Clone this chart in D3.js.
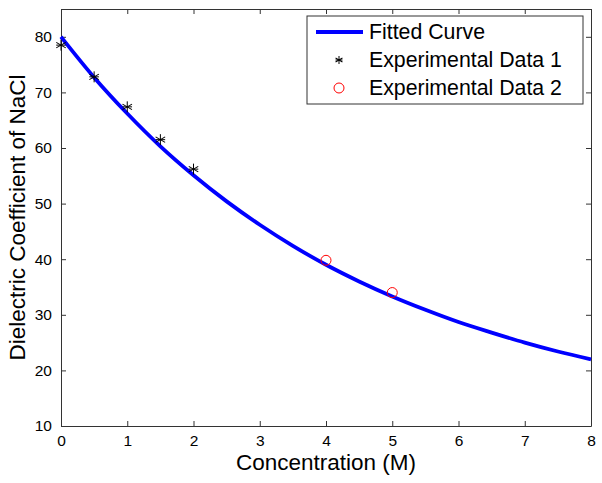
<!DOCTYPE html>
<html>
<head>
<meta charset="utf-8">
<script src="https://cdn.jsdelivr.net/npm/d3@7"></script>
<style>
  body { margin: 0; background: #fff; }
  text { font-family: "Liberation Sans", Arial, sans-serif; fill: #000; }
  .axis path, .axis line { stroke: #333; }
</style>
</head>
<body>
<div id="chart"></div>
<script>
// fitted curve
const curveX = [0, 0.5, 1, 1.5, 2, 2.5, 3, 3.5, 4, 4.5, 5, 5.5, 6, 6.5, 7, 7.5, 8];
const curveY = [80.0, 72.7, 66.2, 60.3, 55.1, 50.4, 46.2, 42.4, 39.0, 36.0, 33.3, 30.9, 28.7, 26.8, 25.0, 23.4, 22.0];

// experimental data
const exp1X = [0, 0.5, 1, 1.5, 2];
const exp1Y = [78.5, 72.8, 67.4, 61.5, 56.2];
const exp2X = [4, 5];
const exp2Y = [39.8, 34.0];

const xTicks = [0, 1, 2, 3, 4, 5, 6, 7, 8];
const yTicks = [10, 20, 30, 40, 50, 60, 70, 80];

const width = 602, height = 483;
const margin = { top: 9, right: 11, bottom: 57, left: 61 };
const chartWidth = width - margin.left - margin.right;
const chartHeight = height - margin.top - margin.bottom;

const svg = d3.select("#chart")
  .append("svg")
  .attr("width", width)
  .attr("height", height);

const g = svg.append("g")
  .attr("transform", `translate(${margin.left}, ${margin.top})`);

const xScale = d3.scaleLinear().domain([0, 8]).range([0, chartWidth]);
const yScale = d3.scaleLinear().domain([10, 85]).range([chartHeight, 0]);

// box with inward ticks on all sides
g.append("g")
  .attr("class", "axis")
  .attr("transform", `translate(0,${chartHeight})`)
  .call(d3.axisBottom(xScale).tickValues(xTicks).tickSizeInner(-5).tickSizeOuter(0).tickPadding(9))
  .call(a => a.selectAll("text").attr("font-size", 15.5));

g.append("g")
  .attr("class", "axis")
  .call(d3.axisTop(xScale).tickValues(xTicks).tickSizeInner(-5).tickSizeOuter(0).tickFormat(""));

g.append("g")
  .attr("class", "axis")
  .call(d3.axisLeft(yScale).tickValues(yTicks).tickSizeInner(-5).tickSizeOuter(0).tickPadding(9))
  .call(a => a.selectAll("text").attr("font-size", 15.5));

g.append("g")
  .attr("class", "axis")
  .attr("transform", `translate(${chartWidth},0)`)
  .call(d3.axisRight(yScale).tickValues(yTicks).tickSizeInner(-5).tickSizeOuter(0).tickFormat(""));

g.selectAll(".axis .domain").attr("stroke", "#333");

const clipped = g.append("g");

const curveData = curveX.map((x, i) => ({ x, y: curveY[i] }));
const line = d3.line()
  .x(d => xScale(d.x))
  .y(d => yScale(d.y))
  .curve(d3.curveMonotoneX);

clipped.append("path")
  .datum(curveData)
  .attr("fill", "none")
  .attr("stroke", "#0000ff")
  .attr("stroke-width", 3.8)
  .attr("d", line);

// asterisk marker
function asterisk(sel, r) {
  [0, 60, 120].forEach(a => {
    sel.append("line")
      .attr("x1", 0).attr("y1", -r)
      .attr("x2", 0).attr("y2", r)
      .attr("transform", `rotate(${a})`);
  });
  sel.append("line").attr("x1", -r * 0.87).attr("x2", r * 0.87).attr("y1", 0).attr("y2", 0);
}

const exp1 = exp1X.map((x, i) => ({ x, y: exp1Y[i] }));
clipped.append("g")
  .selectAll(".star")
  .data(exp1)
  .enter()
  .append("g")
  .attr("class", "star")
  .attr("stroke", "#000")
  .attr("stroke-width", 1)
  .attr("transform", d => `translate(${xScale(d.x)}, ${yScale(d.y)})`)
  .each(function() { asterisk(d3.select(this), 5.5); });

const exp2 = exp2X.map((x, i) => ({ x, y: exp2Y[i] }));
clipped.append("g")
  .selectAll(".circ")
  .data(exp2)
  .enter()
  .append("circle")
  .attr("class", "circ")
  .attr("cx", d => xScale(d.x))
  .attr("cy", d => yScale(d.y))
  .attr("r", 5)
  .attr("fill", "none")
  .attr("stroke", "#ff0000")
  .attr("stroke-width", 1);

// axis labels
svg.append("text")
  .attr("x", margin.left + chartWidth / 2)
  .attr("y", 470)
  .attr("text-anchor", "middle")
  .attr("font-size", 22.5)
  .text("Concentration (M)");

svg.append("text")
  .attr("transform", `translate(25, ${margin.top + chartHeight / 2}) rotate(-90)`)
  .attr("text-anchor", "middle")
  .attr("font-size", 22.5)
  .text("Dielectric Coefficient of NaCl");

// legend
const legend = svg.append("g").attr("transform", "translate(307, 16)");
legend.append("rect")
  .attr("width", 276)
  .attr("height", 88)
  .attr("fill", "#fff")
  .attr("stroke", "#333");

const rows = [
  { label: "Fitted Curve", y: 16 },
  { label: "Experimental Data 1", y: 44 },
  { label: "Experimental Data 2", y: 72 }
];
legend.selectAll(".lab")
  .data(rows)
  .enter()
  .append("text")
  .attr("class", "lab")
  .attr("x", 62)
  .attr("y", d => d.y)
  .attr("dy", "0.35em")
  .attr("font-size", 21.3)
  .text(d => d.label);

legend.append("line")
  .attr("x1", 9).attr("x2", 56)
  .attr("y1", 16).attr("y2", 16)
  .attr("stroke", "#0000ff")
  .attr("stroke-width", 3.8);

legend.append("g")
  .attr("stroke", "#000")
  .attr("transform", "translate(32, 44)")
  .call(s => asterisk(s, 4));

legend.append("circle")
  .attr("cx", 32).attr("cy", 72)
  .attr("r", 5)
  .attr("fill", "none")
  .attr("stroke", "#ff0000");
</script>
</body>
</html>
